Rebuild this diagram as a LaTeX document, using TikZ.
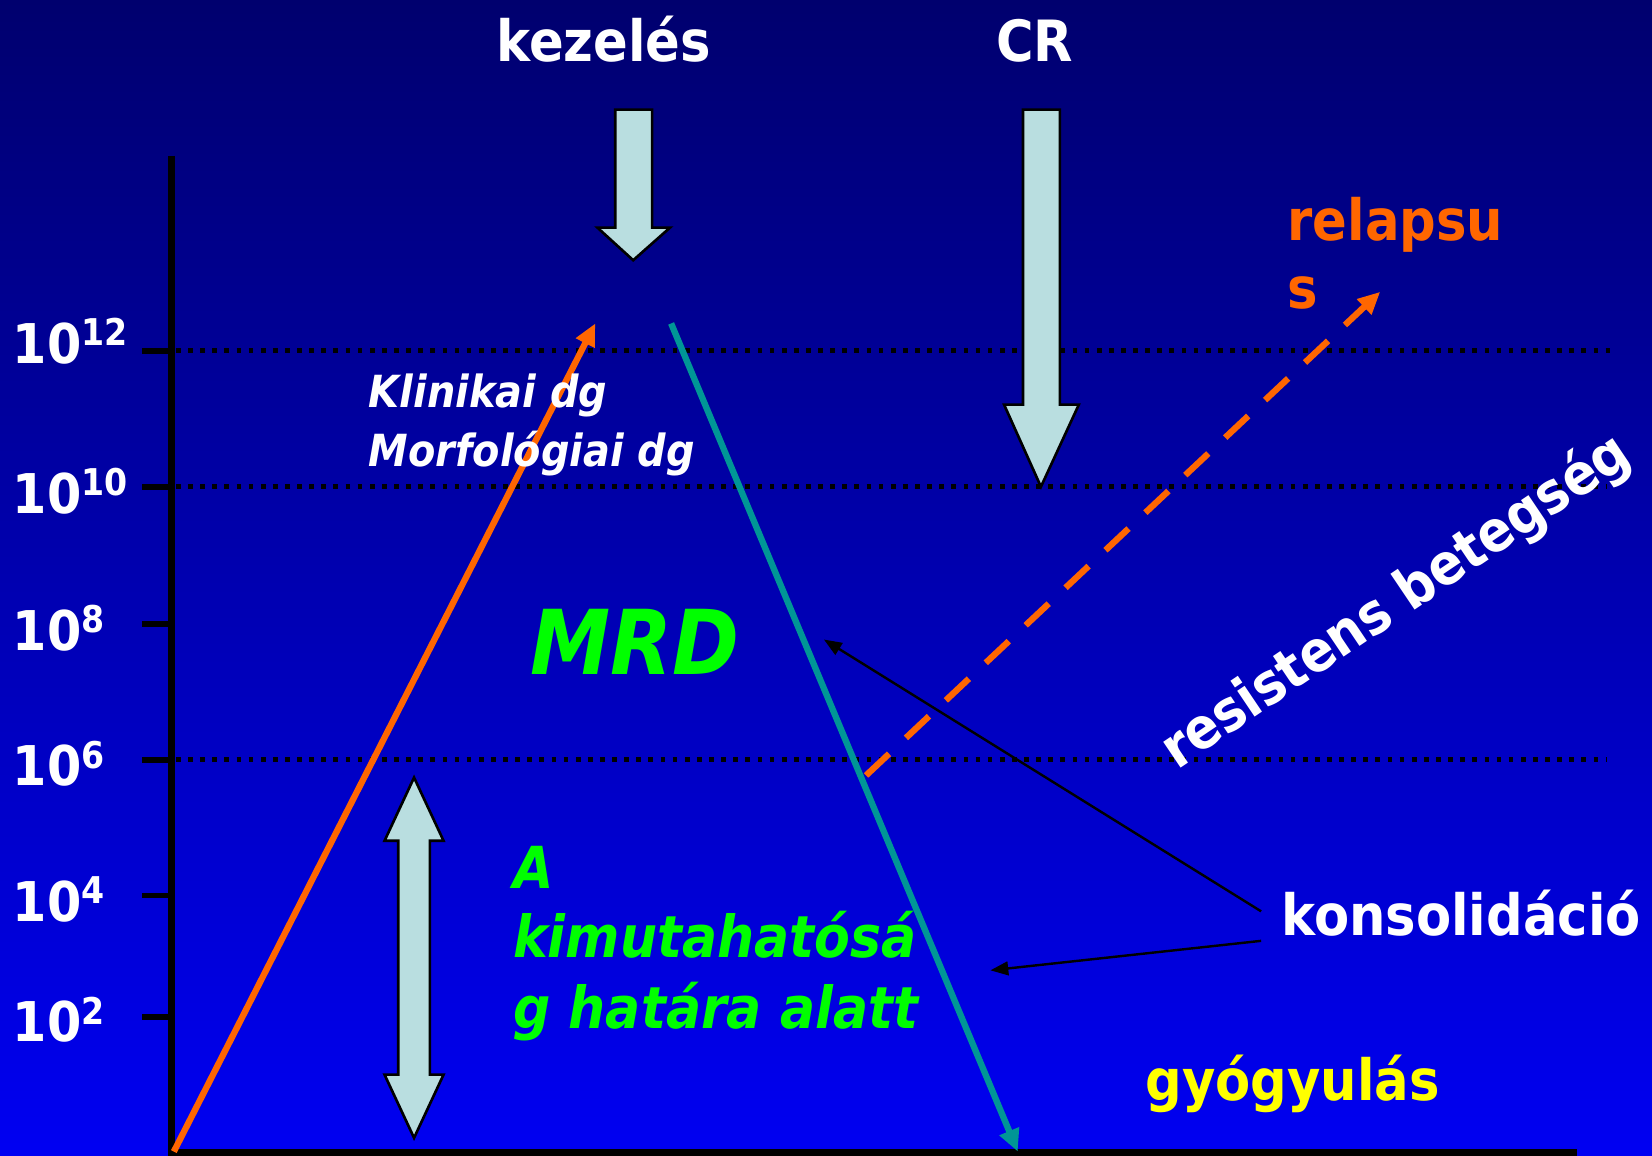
\documentclass[tikz,border=0pt]{standalone}
\usepackage{fontspec}
\setmainfont{DejaVu Sans}[FakeStretch=0.9]
\usetikzlibrary{arrows.meta}

\definecolor{bgtop}{RGB}{0,0,110}
\definecolor{bgbot}{RGB}{0,0,242}
\definecolor{orng}{RGB}{255,102,0}
\definecolor{tealc}{RGB}{0,150,150}
\definecolor{pale}{RGB}{185,222,224}
\definecolor{lgreen}{RGB}{0,255,0}
\definecolor{yel}{RGB}{255,255,0}

\newcommand\tenpow[1]{10\raisebox{17pt}{\fontsize{35}{35}\selectfont #1}}

\begin{document}
\begin{tikzpicture}[x=1pt,y=-1pt,
  big/.style={inner sep=0pt, font=\fontsize{54}{60}\selectfont\bfseries},
  slanted/.style={inner sep=0pt, font=\fontsize{42}{48}\selectfont\bfseries\itshape, text=white},
  greentxt/.style={inner sep=0pt, font=\fontsize{55}{60}\selectfont\bfseries\itshape, text=lgreen},
  ticklbl/.style={inner sep=0pt, anchor=base west, text=white, font=\fontsize{52}{52}\selectfont\bfseries},
  axisline/.style={line width=7pt, black},
  tickline/.style={line width=5.5pt, black},
  dotline/.style={line width=4.5pt, black, dash pattern=on 4.5pt off 7pt},
  blockarrow/.style={fill=pale, draw=black, line width=2.5pt, line join=miter},
  curve/.style={line width=6pt, -{Triangle[length=21pt,width=19pt]}},
  pointer/.style={line width=2.3pt, black, -{Triangle[length=17pt,width=13pt]}}
]
% background
\shade[top color=bgtop, bottom color=bgbot] (0,0) rectangle (1568,1097);
\useasboundingbox (0,0) rectangle (1568,1097);

% dotted reference levels
\draw[dotline] (167,333) -- (1535,333);
\draw[dotline] (167,462) -- (1525,462);
\draw[dotline] (167,721) -- (1525,721);

% axes and ticks
\draw[axisline] (163,148) -- (163,1097);
\draw[axisline] (160,1094) -- (1497,1094);
\foreach \yy in {333,462,592,721,850,965}
  \draw[tickline] (135,\yy) -- (163,\yy);

% tick labels
\node[ticklbl] (t12) at (12,345) {\tenpow{12}};
\node[ticklbl] (t10) at (12,487) {\tenpow{10}};
\node[ticklbl] (t8)  at (12,617) {\tenpow{8}};
\node[ticklbl] (t6)  at (12,746) {\tenpow{6}};
\node[ticklbl] (t4)  at (12,875) {\tenpow{4}};
\node[ticklbl] (t2)  at (12,989) {\tenpow{2}};

% block arrows
\draw[blockarrow] (584,104) -- (619,104) -- (619,216) -- (636,216) -- (601,247)
  -- (567,216) -- (584,216) -- cycle;
\draw[blockarrow] (971,104) -- (1006,104) -- (1006,384) -- (1024,384) -- (988,462)
  -- (953,384) -- (971,384) -- cycle;
\draw[blockarrow] (393,738) -- (421,798) -- (408,798) -- (408,1020) -- (421,1020)
  -- (393,1080) -- (365,1020) -- (378,1020) -- (378,798) -- (365,798) -- cycle;

% growth, response and relapse lines
\coordinate (gstart) at (165,1093);
\coordinate (gpeak) at (565,307);
\coordinate (rstart) at (637,307);
\coordinate (rend) at (966,1093);
\coordinate (lstart) at (822,736);
\coordinate (lend) at (1310,277);
\draw[curve, orng] (gstart) -- (gpeak);
\draw[curve, tealc] (rstart) -- (rend);
\draw[curve, orng, dash pattern=on 30pt off 22pt] (lstart) -- (lend);

% labels
\node[big, text=white, anchor=base] (kez) at (573,58) {kezelés};
\node[big, text=white, anchor=base] (cr) at (982,58) {CR};
\node[big, text=orng, anchor=base west] (rel1) at (1222,228) {relapsu};
\node[big, text=orng, anchor=base west] (rel2) at (1222,293) {s};
\node[big, text=white, anchor=base west, rotate=34] (res) at (1117,731) {resistens betegség};
\node[big, text=white, anchor=base west] (kons) at (1216,888) {konsolidáció};
\node[big, text=yel, anchor=base west] (gyo) at (1087,1045) {gyógyulás};
\node[slanted, anchor=base west] (klin) at (350,387) {Klinikai dg};
\node[slanted, anchor=base west] (morf) at (350,443) {Morfológiai dg};
\node[inner sep=0pt, anchor=base west, text=lgreen,
  font=\fontsize{85}{85}\selectfont\bfseries\itshape] (mrd) at (503,640) {MRD};
\node[greentxt, anchor=base west] (g1) at (487,843) {A};
\node[greentxt, anchor=base west] (g2) at (487,909) {kimutahatósá};
\node[greentxt, anchor=base west] (g3) at (487,976) {g határa alatt};

% pointers from the consolidation label
\coordinate (p1) at (782,607);
\coordinate (p2) at (940,921);
\draw[pointer] ([xshift=-19pt,yshift=23pt]kons.base west) -- (p1);
\draw[pointer] ([xshift=-19pt,yshift=-5pt]kons.base west) -- (p2);
\end{tikzpicture}
\end{document}
